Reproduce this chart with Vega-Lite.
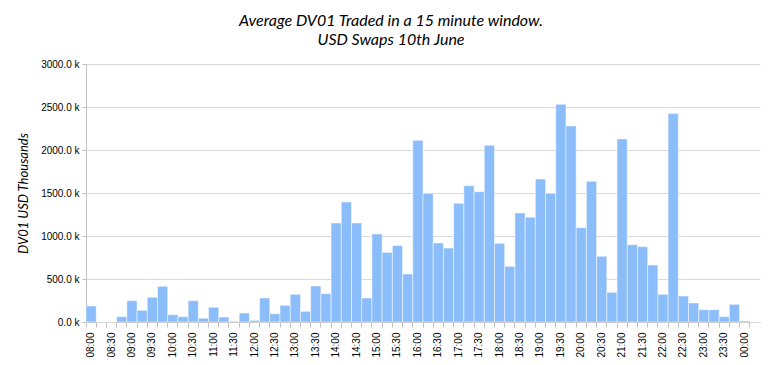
{
  "$schema": "https://vega.github.io/schema/vega-lite/v6.json",
  "autosize": {"type": "none"},
  "width": 674,
  "height": 258,
  "padding": {"left": 86, "top": 64, "right": 15, "bottom": 43},
  "background": "white",
  "title": {
    "text": ["Average DV01 Traded in a 15 minute window.", "USD Swaps 10th June"],
    "font": "Lato",
    "fontStyle": "italic",
    "fontWeight": "normal",
    "fontSize": 16,
    "lineHeight": 19,
    "color": "#000000",
    "anchor": "middle",
    "dx": -32,
    "offset": 11
  },
  "data": {
    "values": [
      {"time": "08:00", "dv01": 186},
      {"time": "08:15", "dv01": 0},
      {"time": "08:30", "dv01": 0},
      {"time": "08:45", "dv01": 62},
      {"time": "09:00", "dv01": 248},
      {"time": "09:15", "dv01": 136},
      {"time": "09:30", "dv01": 287},
      {"time": "09:45", "dv01": 415},
      {"time": "10:00", "dv01": 85},
      {"time": "10:15", "dv01": 62},
      {"time": "10:30", "dv01": 248},
      {"time": "10:45", "dv01": 43},
      {"time": "11:00", "dv01": 171},
      {"time": "11:15", "dv01": 58},
      {"time": "11:30", "dv01": 8},
      {"time": "11:45", "dv01": 105},
      {"time": "12:00", "dv01": 19},
      {"time": "12:15", "dv01": 279},
      {"time": "12:30", "dv01": 97},
      {"time": "12:45", "dv01": 194},
      {"time": "13:00", "dv01": 322},
      {"time": "13:15", "dv01": 124},
      {"time": "13:30", "dv01": 419},
      {"time": "13:45", "dv01": 329},
      {"time": "14:00", "dv01": 1151},
      {"time": "14:15", "dv01": 1395},
      {"time": "14:30", "dv01": 1151},
      {"time": "14:45", "dv01": 279},
      {"time": "15:00", "dv01": 1023},
      {"time": "15:15", "dv01": 810},
      {"time": "15:30", "dv01": 888},
      {"time": "15:45", "dv01": 558},
      {"time": "16:00", "dv01": 2112},
      {"time": "16:15", "dv01": 1496},
      {"time": "16:30", "dv01": 919},
      {"time": "16:45", "dv01": 860},
      {"time": "17:00", "dv01": 1380},
      {"time": "17:15", "dv01": 1585},
      {"time": "17:30", "dv01": 1515},
      {"time": "17:45", "dv01": 2054},
      {"time": "18:00", "dv01": 915},
      {"time": "18:15", "dv01": 647},
      {"time": "18:30", "dv01": 1267},
      {"time": "18:45", "dv01": 1217},
      {"time": "19:00", "dv01": 1663},
      {"time": "19:15", "dv01": 1496},
      {"time": "19:30", "dv01": 2531},
      {"time": "19:45", "dv01": 2279},
      {"time": "20:00", "dv01": 1097},
      {"time": "20:15", "dv01": 1636},
      {"time": "20:30", "dv01": 764},
      {"time": "20:45", "dv01": 345},
      {"time": "21:00", "dv01": 2128},
      {"time": "21:15", "dv01": 899},
      {"time": "21:30", "dv01": 876},
      {"time": "21:45", "dv01": 663},
      {"time": "22:00", "dv01": 322},
      {"time": "22:15", "dv01": 2423},
      {"time": "22:30", "dv01": 302},
      {"time": "22:45", "dv01": 221},
      {"time": "23:00", "dv01": 143},
      {"time": "23:15", "dv01": 143},
      {"time": "23:30", "dv01": 62},
      {"time": "23:45", "dv01": 205},
      {"time": "00:00", "dv01": 12},
      {"time": "00:15", "dv01": 0}
    ]
  },
  "mark": {"type": "bar", "color": "#8bbdfb", "stroke": "#ffffff", "strokeWidth": 0.6, "strokeOpacity": 0.8},
  "encoding": {
    "x": {
      "field": "time",
      "type": "ordinal",
      "sort": null,
      "scale": {"paddingInner": 0, "paddingOuter": 0},
      "axis": {
        "title": null,
        "labelAngle": -90,
        "labelExpr": "(slice(datum.value,3)=='15' || slice(datum.value,3)=='45') ? '' : datum.value",
        "labelOverlap": false,
        "labelFont": "Liberation Sans",
        "labelFontSize": 10,
        "labelColor": "#000000",
        "labelPadding": 5,
        "domainColor": "#bfbfbf",
        "tickColor": "#bfbfbf",
        "tickSize": 5,
        "bandPosition": 0,
        "grid": false
      }
    },
    "y": {
      "field": "dv01",
      "type": "quantitative",
      "scale": {"domain": [0, 3000], "nice": false},
      "axis": {
        "title": "DV01 USD Thousands",
        "titleFont": "Lato",
        "titleFontStyle": "italic",
        "titleFontWeight": "normal",
        "titleFontSize": 13,
        "titleColor": "#000000",
        "titlePadding": 10,
        "values": [0, 500, 1000, 1500, 2000, 2500, 3000],
        "labelExpr": "format(datum.value, '.1f') + ' k'",
        "labelFont": "Liberation Sans",
        "labelFontSize": 10,
        "labelColor": "#000000",
        "labelPadding": 3,
        "domainColor": "#bfbfbf",
        "tickColor": "#bfbfbf",
        "tickSize": 4,
        "grid": true,
        "gridColor": "#d9d9d9",
        "gridWidth": 1
      }
    }
  },
  "config": {"view": {"stroke": null}}
}
